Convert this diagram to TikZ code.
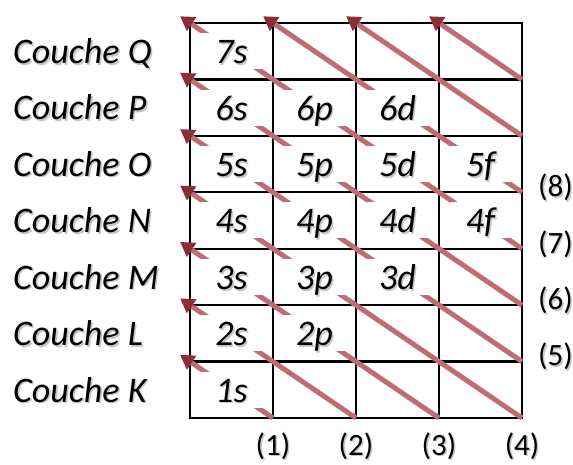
\documentclass[tikz,border=0pt]{standalone}
\usepackage{fontspec}
\setmainfont{Carlito}
\usetikzlibrary{arrows.meta}
\definecolor{shaft}{RGB}{190,108,118}
\definecolor{headc}{RGB}{140,45,55}
\newcommand\shd[1]{\leavevmode\rlap{\hspace{1.6pt}\raisebox{-1.6pt}{\textcolor{black!22}{#1}}}#1}
\begin{document}
\begin{tikzpicture}[x=1pt,y=-1pt,
  gridline/.style={line width=2.2pt, line cap=rect},
  arr/.style={draw=shaft, line width=5pt, shorten >=-12pt, -{Triangle[length=14pt,width=16pt,color=headc]}},
  cell/.style={fill=white, inner sep=0pt, minimum width=62pt, minimum height=36pt, text height=25pt, text depth=0pt, font=\fontsize{36}{40}\selectfont\itshape},
  couche/.style={anchor=base west, inner sep=0pt, font=\fontsize{36}{40}\selectfont\itshape},
  num/.style={inner sep=0pt, font=\fontsize{31}{34}\selectfont}]
\useasboundingbox (0,0) rectangle (573,464);
\foreach \i in {0,...,4}{\foreach \j in {0,...,7}{\coordinate (c-\i-\j) at ({190+83*\i},{418-56.43*\j});}}
\foreach \i in {0,...,4} \draw[gridline] (c-\i-0) -- (c-\i-7);
\foreach \j in {0,...,7} \draw[gridline] (c-0-\j) -- (c-4-\j);
\foreach \ti/\tj/\hi/\hj in {1/0/0/1, 2/0/0/2, 3/0/0/3, 4/0/0/4, 4/1/0/5, 4/2/0/6, 4/3/0/7, 4/4/1/7, 4/5/2/7, 4/6/3/7}
  \draw[arr] (c-\ti-\tj) -- (c-\hi-\hj);
\foreach \t/\c/\r in {7s/0/0, 6s/0/1, 6p/1/1, 6d/2/1, 5s/0/2, 5p/1/2, 5d/2/2, 5f/3/2, 4s/0/3, 4p/1/3, 4d/2/3, 4f/3/3, 3s/0/4, 3p/1/4, 3d/2/4, 2s/0/5, 2p/1/5, 1s/0/6}
  \node[cell] (n\t) at ({231.5+83*\c},{51.2+56.43*\r}) {\shd{\t}};
\foreach \l/\r in {Q/0, P/1, O/2, N/3, M/4, L/5, K/6}
  \node[couche] (couche\l) at (13,{63.5+56.43*\r}) {\shd{Couche \l}};
\foreach \i in {1,...,4}
  \node[num] (b\i) at ({190+83*\i},447) {\shd{(\i)}};
\foreach \n/\j in {5/1, 6/2, 7/3, 8/4}
  \node[num,anchor=west] (r\n) at (538,{418-56.43*\j-4}) {\shd{(\n)}};
\end{tikzpicture}
\end{document}
